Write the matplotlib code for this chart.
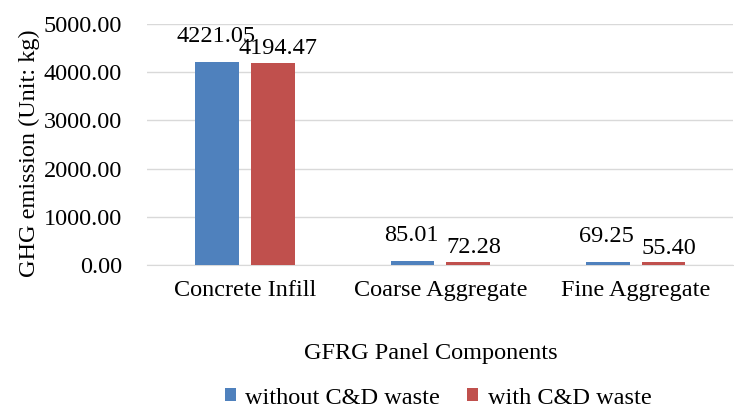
import numpy as np
import matplotlib
matplotlib.use('Agg')
import matplotlib.pyplot as plt

plt.rcParams['font.family'] = ['Liberation Serif', 'DejaVu Serif']

components = ['Concrete Infill', 'Coarse Aggregate', 'Fine Aggregate']
without_cd = [4221.05, 85.01, 69.25]
with_cd = [4194.47, 72.28, 55.40]
series_names = ['without C&D waste', 'with C&D waste']
yticks = [0, 1000, 2000, 3000, 4000, 5000]

blue = '#4F81BD'
red = '#C0504D'
fs = 17.5

fig = plt.figure(figsize=(7.34, 4.08), dpi=100)
ax = fig.add_axes([0.2003, 0.3505, 0.7990, 0.5907])

x = np.arange(len(components))
w = 0.225
off = 0.142
b1 = ax.bar(x - off, without_cd, w, color=blue, label=series_names[0], zorder=3)
b2 = ax.bar(x + off, with_cd, w, color=red, label=series_names[1], zorder=3)

# value labels above each bar
for rect, v in zip(b1, without_cd):
    ax.annotate(f'{v:.2f}', (rect.get_x() + rect.get_width() / 2, v),
                xytext=(-1, 18), textcoords='offset points',
                ha='center', va='center', fontsize=fs)
for rect, v in zip(b2, with_cd):
    ax.annotate(f'{v:.2f}', (rect.get_x() + rect.get_width() / 2, v),
                xytext=(4, 10), textcoords='offset points',
                ha='center', va='center', fontsize=fs)

ax.set_xlim(-0.5, 2.5)
ax.set_ylim(0, 5000)
ax.set_yticks(yticks)
ax.set_yticklabels([f'{t:.2f}' for t in yticks])
ax.set_xticks(x)
ax.set_xticklabels(components)
ax.tick_params(axis='y', length=0, pad=18, labelsize=fs)
ax.tick_params(axis='x', length=0, pad=11, labelsize=fs)
ax.grid(axis='y', color='#D9D9D9', linewidth=1, zorder=0)
for s in ['top', 'right', 'left']:
    ax.spines[s].set_visible(False)
ax.spines['bottom'].set_color('#D9D9D9')

fig.text(29 / 734, 1 - 153 / 408, 'GHG emission (Unit: kg)', rotation=90,
         ha='center', va='center', fontsize=fs)
fig.text(431 / 734, 1 - 353 / 408, 'GFRG Panel Components', ha='center', va='center', fontsize=fs)

fig.legend(loc='center', bbox_to_anchor=(438 / 734, 1 - 398 / 408), ncol=2, frameon=False,
           fontsize=fs, handlelength=0.45, handleheight=0.45, handletextpad=0.4,
           columnspacing=1.1, borderpad=0, borderaxespad=0)

fig.savefig('out.png', dpi=100)
